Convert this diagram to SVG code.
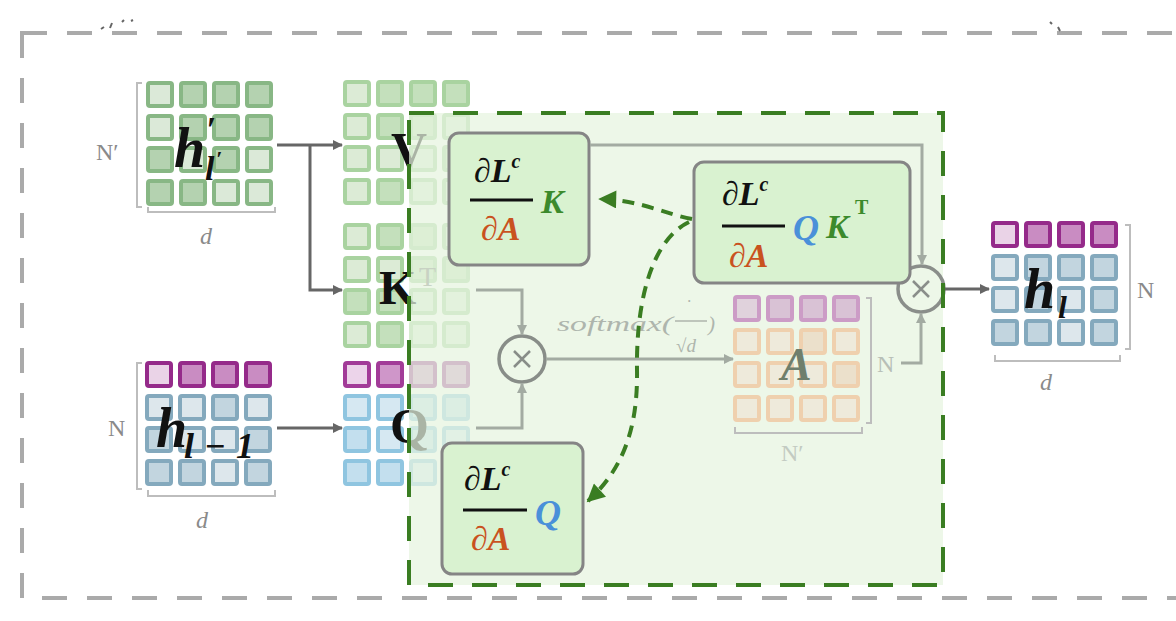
<svg xmlns="http://www.w3.org/2000/svg" width="1176" height="621" viewBox="0 0 1176 621">
<style>
.c{stroke-width:4;rx:2}
.gA{fill:#dbe9d8;stroke:#88b785}.gB{fill:#b4d2b0;stroke:#88b785}
.vA{fill:#dcebd6;stroke:#a9d3a0}.vB{fill:#c4e0bc;stroke:#a9d3a0}
.pA{fill:#ead3e7;stroke:#952a8a}.pB{fill:#c98cc2;stroke:#952a8a}
.bA{fill:#dde7ec;stroke:#84a9bd}.bB{fill:#c2d5df;stroke:#84a9bd}
.qA{fill:#d6e8f2;stroke:#8fc5e0}.qB{fill:#c3dfee;stroke:#8fc5e0}
.qpA{fill:#ecd4ea;stroke:#a23b98}.qpB{fill:#cf96c9;stroke:#a23b98}
.apA{fill:#e0d2dc;stroke:#cc9cc6}.apB{fill:#d9c2d5;stroke:#cc9cc6}
.aoA{fill:#eeeadb;stroke:#efd0ae}.aoB{fill:#ebe0cb;stroke:#efd0ae}
.brk{fill:none;stroke:#bdbdbd;stroke-width:2}
.dim{font-family:"Liberation Serif",serif;fill:#8a8a8a}
.math{font-family:"Liberation Serif",serif;font-weight:bold;font-style:italic}
.lab{font-family:"Liberation Serif",serif;font-weight:bold}
.dk{fill:none;stroke:#666;stroke-width:3}
.gr{fill:none;stroke:#a3aba2;stroke-width:3}
.box{fill:#d9f2d0;stroke:#858585;stroke-width:3}
.gd{fill:none;stroke:#3a7d22;stroke-width:4;stroke-dasharray:12 8}
</style>
<defs>
<marker id="aDk" viewBox="0 0 10 10" refX="9" refY="5" markerWidth="12" markerHeight="10" markerUnits="userSpaceOnUse" orient="auto"><path d="M0,0 L10,5 L0,10 z" fill="#666"/></marker>
<marker id="aGr" viewBox="0 0 10 10" refX="9" refY="5" markerWidth="12" markerHeight="10" markerUnits="userSpaceOnUse" orient="auto"><path d="M0,0 L10,5 L0,10 z" fill="#a3aba2"/></marker>
<marker id="aGn" viewBox="0 0 10 10" refX="9" refY="5" markerWidth="20" markerHeight="18" markerUnits="userSpaceOnUse" orient="auto"><path d="M0,0 L10,5 L0,10 z" fill="#3a7d22"/></marker>
</defs>

<!-- outer frame -->
<rect x="22" y="33" width="1180" height="565" fill="none" stroke="#aaaaaa" stroke-width="4" stroke-dasharray="25 20"/>
<path d="M101 29 L104 27 M110 28 L112 23 M122 22 L124 20 M131 21 L133 20 M1050 22 L1052 24 M1058 27 L1060 31" stroke="#666" stroke-width="2" fill="none"/>

<!-- h'_l' -->
<g id="h_prime">
<g transform="translate(146,81)">
<rect class="c gA" x="2" y="2" width="24" height="23"/><rect class="c gB" x="35" y="2" width="24" height="23"/><rect class="c gB" x="68" y="2" width="24" height="23"/><rect class="c gB" x="101" y="2" width="24" height="23"/>
<rect class="c gA" x="2" y="35" width="24" height="23"/><rect class="c gB" x="35" y="35" width="24" height="23"/><rect class="c gB" x="68" y="35" width="24" height="23"/><rect class="c gB" x="101" y="35" width="24" height="23"/>
<rect class="c gB" x="2" y="67" width="24" height="23"/><rect class="c gA" x="35" y="67" width="24" height="23"/><rect class="c gB" x="68" y="67" width="24" height="23"/><rect class="c gA" x="101" y="67" width="24" height="23"/>
<rect class="c gB" x="2" y="100" width="24" height="23"/><rect class="c gB" x="35" y="100" width="24" height="23"/><rect class="c gA" x="68" y="100" width="24" height="23"/><rect class="c gA" x="101" y="100" width="24" height="23"/>
</g>
<path class="brk" d="M142 83 H137 V207 H142"/>
<path class="brk" d="M148 207 V212 H275 V207"/>
<text class="dim" x="96" y="160" font-size="24">N′</text>
<text class="dim" x="200" y="244" font-size="24" font-style="italic">d</text>
<text class="math" x="174" y="167" font-size="56" fill="#111">h</text>
<text class="math" x="206" y="142" font-size="36" fill="#111">′</text>
<text class="math" x="205" y="180" font-size="34" fill="#111">l</text>
<text class="math" x="216" y="166" font-size="22" fill="#111">′</text>
</g>

<!-- h_{l-1} -->
<g id="h_lm1">
<g transform="translate(145,361)">
<rect class="c pA" x="2" y="2" width="24" height="23"/><rect class="c pB" x="35" y="2" width="24" height="23"/><rect class="c pB" x="68" y="2" width="24" height="23"/><rect class="c pB" x="101" y="2" width="24" height="23"/>
<rect class="c bA" x="2" y="35" width="24" height="23"/><rect class="c bA" x="35" y="35" width="24" height="23"/><rect class="c bB" x="68" y="35" width="24" height="23"/><rect class="c bA" x="101" y="35" width="24" height="23"/>
<rect class="c bB" x="2" y="67" width="24" height="23"/><rect class="c bA" x="35" y="67" width="24" height="23"/><rect class="c bA" x="68" y="67" width="24" height="23"/><rect class="c bB" x="101" y="67" width="24" height="23"/>
<rect class="c bB" x="2" y="100" width="24" height="23"/><rect class="c bB" x="35" y="100" width="24" height="23"/><rect class="c bA" x="68" y="100" width="24" height="23"/><rect class="c bB" x="101" y="100" width="24" height="23"/>
</g>
<path class="brk" d="M142 363 H137 V489 H142"/>
<path class="brk" d="M148 490 V496 H275 V490"/>
<text class="dim" x="108" y="436" font-size="24">N</text>
<text class="dim" x="196" y="528" font-size="24" font-style="italic">d</text>
<text class="math" x="156" y="447" font-size="56" fill="#111">h</text>
<text class="math" x="184" y="458" font-size="36" fill="#111" textLength="70" lengthAdjust="spacing">l−1</text>
</g>

<!-- V, K, Q matrices -->
<g id="V">
<g transform="translate(343,80)">
<rect class="c vA" x="2" y="2" width="24" height="23"/><rect class="c vB" x="35" y="2" width="24" height="23"/><rect class="c vB" x="68" y="2" width="24" height="23"/><rect class="c vB" x="101" y="2" width="24" height="23"/>
<rect class="c vA" x="2" y="35" width="24" height="23"/><rect class="c vB" x="35" y="35" width="24" height="23"/><rect class="c vB" x="68" y="35" width="24" height="23"/><rect class="c vA" x="101" y="35" width="24" height="23"/>
<rect class="c vA" x="2" y="67" width="24" height="23"/><rect class="c vA" x="35" y="67" width="24" height="23"/><rect class="c vA" x="68" y="67" width="24" height="23"/><rect class="c vB" x="101" y="67" width="24" height="23"/>
<rect class="c vA" x="2" y="100" width="24" height="23"/><rect class="c vB" x="35" y="100" width="24" height="23"/><rect class="c vA" x="68" y="100" width="24" height="23"/><rect class="c vA" x="101" y="100" width="24" height="23"/>
</g>
<text class="lab" x="391" y="167" font-size="50" fill="#111">V</text>
</g>
<g id="K">
<g transform="translate(343,223)">
<rect class="c vA" x="2" y="2" width="24" height="23"/><rect class="c vB" x="35" y="2" width="24" height="23"/><rect class="c vB" x="68" y="2" width="24" height="23"/><rect class="c vA" x="101" y="2" width="24" height="23"/>
<rect class="c vA" x="2" y="35" width="24" height="23"/><rect class="c vA" x="35" y="35" width="24" height="23"/><rect class="c vB" x="68" y="35" width="24" height="23"/><rect class="c vB" x="101" y="35" width="24" height="23"/>
<rect class="c vB" x="2" y="67" width="24" height="23"/><rect class="c vB" x="35" y="67" width="24" height="23"/><rect class="c vA" x="68" y="67" width="24" height="23"/><rect class="c vA" x="101" y="67" width="24" height="23"/>
<rect class="c vA" x="2" y="100" width="24" height="23"/><rect class="c vB" x="35" y="100" width="24" height="23"/><rect class="c vA" x="68" y="100" width="24" height="23"/><rect class="c vA" x="101" y="100" width="24" height="23"/>
</g>
<text class="lab" x="379" y="304" font-size="48" fill="#111">K</text>
<text x="419" y="286" font-family="Liberation Serif,serif" font-size="28" fill="#7a7a7a">T</text>
</g>
<g id="Q">
<g transform="translate(343,361)">
<rect class="c qpA" x="2" y="2" width="24" height="23"/><rect class="c qpB" x="35" y="2" width="24" height="23"/><rect class="c qpB" x="68" y="2" width="24" height="23"/><rect class="c qpB" x="101" y="2" width="24" height="23"/>
<rect class="c qA" x="2" y="35" width="24" height="23"/><rect class="c qA" x="35" y="35" width="24" height="23"/><rect class="c qB" x="68" y="35" width="24" height="23"/><rect class="c qB" x="101" y="35" width="24" height="23"/>
<rect class="c qB" x="2" y="67" width="24" height="23"/><rect class="c qA" x="35" y="67" width="24" height="23"/><rect class="c qB" x="68" y="67" width="24" height="23"/><rect class="c qA" x="101" y="67" width="24" height="23"/>
<rect class="c qB" x="2" y="100" width="24" height="23"/><rect class="c qB" x="35" y="100" width="24" height="23"/><rect class="c qA" x="68" y="100" width="24" height="23"/><rect class="c qA" x="101" y="100" width="24" height="23"/>
</g>
<text class="lab" x="390" y="443" font-size="50" fill="#111">Q</text>
</g>

<!-- green region overlay -->
<rect x="409" y="113" width="534" height="472" fill="#e6f4df" opacity="0.72"/>

<!-- A matrix -->
<g id="A">
<g transform="translate(733,295)">
<rect class="c apA" x="2" y="2" width="24" height="23"/><rect class="c apB" x="35" y="2" width="24" height="23"/><rect class="c apB" x="68" y="2" width="24" height="23"/><rect class="c apB" x="101" y="2" width="24" height="23"/>
<rect class="c aoA" x="2" y="35" width="24" height="23"/><rect class="c aoA" x="35" y="35" width="24" height="23"/><rect class="c aoB" x="68" y="35" width="24" height="23"/><rect class="c aoA" x="101" y="35" width="24" height="23"/>
<rect class="c aoA" x="2" y="68" width="24" height="23"/><rect class="c aoA" x="35" y="68" width="24" height="23"/><rect class="c aoA" x="68" y="68" width="24" height="23"/><rect class="c aoB" x="101" y="68" width="24" height="23"/>
<rect class="c aoA" x="2" y="102" width="24" height="23"/><rect class="c aoA" x="35" y="102" width="24" height="23"/><rect class="c aoA" x="68" y="102" width="24" height="23"/><rect class="c aoA" x="101" y="102" width="24" height="23"/>
</g>
<path class="brk" d="M866 298 H871 V423 H866" stroke="#cdd3cc"/>
<path class="brk" d="M735 427 V433 H862 V427" stroke="#cdd3cc"/>
<text class="math" x="781" y="380" font-size="46" fill="#6f7f6c">A</text>
<text x="781" y="461" font-family="Liberation Serif,serif" font-size="24" fill="#c3cbc2">N′</text>
<text x="877" y="372" font-family="Liberation Serif,serif" font-size="24" fill="#b8bfb7">N</text>
</g>

<!-- multiply nodes -->
<g id="mul1">
<circle cx="522" cy="359" r="23" fill="none" stroke="#888d88" stroke-width="3.5"/>
<path d="M514 351 L530 367 M530 351 L514 367" stroke="#888d88" stroke-width="2.5"/>
</g>
<g id="mul2">
<circle cx="921" cy="289" r="23" fill="none" stroke="#8a8e8a" stroke-width="3.5"/>
<path d="M913 281 L929 297 M929 281 L913 297" stroke="#8a8e8a" stroke-width="2.5"/>
</g>

<g id="softmax_label" font-family="Liberation Serif,serif" font-style="italic" fill="#aeb5ad">
<text x="557" y="331" font-size="21" textLength="116" lengthAdjust="spacingAndGlyphs">softmax(</text>
<text x="687" y="307" font-size="16">·</text>
<line x1="675" y1="321" x2="707" y2="321" stroke="#aeb5ad" stroke-width="1.5"/>
<text x="676" y="352" font-size="19">√d</text>
<text x="708" y="331" font-size="21">)</text>
</g>

<!-- boxes -->
<g id="box_K">
<rect class="box" x="449" y="133" width="140" height="132" rx="10"/>
<text class="math" x="474" y="182" font-size="34" fill="#111">∂L<tspan font-size="20" dy="-14">c</tspan></text>
<line x1="470" y1="200" x2="533" y2="200" stroke="#111" stroke-width="3"/>
<text class="math" x="481" y="240" font-size="34" fill="#c9521f">∂A</text>
<text class="math" x="541" y="213" font-size="34" fill="#3c8a2c">K</text>
</g>
<g id="box_QKT">
<rect class="box" x="694" y="162" width="216" height="121" rx="10"/>
<text class="math" x="722" y="205" font-size="34" fill="#111">∂L<tspan font-size="20" dy="-14">c</tspan></text>
<line x1="722" y1="226" x2="785" y2="226" stroke="#111" stroke-width="3"/>
<text class="math" x="729" y="267" font-size="34" fill="#c9521f">∂A</text>
<text class="math" x="793" y="240" font-size="36" fill="#4a90d9">Q</text>
<text class="math" x="826" y="238" font-size="34" fill="#3c8a2c">K</text>
<text x="855" y="214" font-family="Liberation Serif,serif" font-weight="bold" font-size="20" fill="#3c8a2c">T</text>
</g>
<g id="box_Q">
<rect class="box" x="442" y="443" width="141" height="131" rx="10"/>
<text class="math" x="464" y="490" font-size="34" fill="#111">∂L<tspan font-size="20" dy="-14">c</tspan></text>
<line x1="463" y1="510" x2="527" y2="510" stroke="#111" stroke-width="3"/>
<text class="math" x="471" y="550" font-size="34" fill="#c9521f">∂A</text>
<text class="math" x="535" y="525" font-size="36" fill="#4a90d9">Q</text>
</g>

<!-- h_l -->
<g id="h_l">
<g transform="translate(991,221)">
<rect class="c pA" x="2" y="2" width="24" height="23"/><rect class="c pB" x="35" y="2" width="24" height="23"/><rect class="c pB" x="68" y="2" width="24" height="23"/><rect class="c pB" x="101" y="2" width="24" height="23"/>
<rect class="c bA" x="2" y="35" width="24" height="23"/><rect class="c bB" x="35" y="35" width="24" height="23"/><rect class="c bB" x="68" y="35" width="24" height="23"/><rect class="c bB" x="101" y="35" width="24" height="23"/>
<rect class="c bA" x="2" y="67" width="24" height="23"/><rect class="c bB" x="35" y="67" width="24" height="23"/><rect class="c bA" x="68" y="67" width="24" height="23"/><rect class="c bB" x="101" y="67" width="24" height="23"/>
<rect class="c bB" x="2" y="100" width="24" height="23"/><rect class="c bB" x="35" y="100" width="24" height="23"/><rect class="c bA" x="68" y="100" width="24" height="23"/><rect class="c bB" x="101" y="100" width="24" height="23"/>
</g>
<path class="brk" d="M1125 225 H1130 V349 H1125"/>
<path class="brk" d="M995 355 V361 H1120 V355"/>
<text class="dim" x="1137" y="298" font-size="24">N</text>
<text class="dim" x="1040" y="390" font-size="24" font-style="italic">d</text>
<text class="math" x="1024" y="308" font-size="56" fill="#111">h</text>
<text class="math" x="1058" y="318" font-size="32" fill="#111">l</text>
</g>

<!-- connectors -->
<g id="connectors">
<path class="dk" d="M277 145 H342" marker-end="url(#aDk)"/>
<path class="dk" d="M310 145 V290 H342" marker-end="url(#aDk)"/>
<path class="dk" d="M277 428 H342" marker-end="url(#aDk)"/>
<path class="gr" d="M476 290 H522 V334" marker-end="url(#aGr)"/>
<path class="gr" d="M476 428 H522 V384" marker-end="url(#aGr)"/>
<path class="gr" d="M546 359 H733" marker-end="url(#aGr)" stroke="#9ea79d"/>
<path class="gr" d="M590 145 H922 V264" marker-end="url(#aGr)" stroke="#9c9f9c" stroke-width="4"/>
<path class="gr" d="M901 363 H921 V314" marker-end="url(#aGr)"/>
<path class="dk" d="M945 289 H989" marker-end="url(#aDk)" stroke="#555"/>
<path class="gd" d="M692 219 C665 214 640 200 600 199" marker-end="url(#aGn)"/>
<path class="gd" d="M689 222 C652 240 636 300 637 370 C638 430 622 470 588 501" marker-end="url(#aGn)"/>
</g>

<!-- green region border -->
<rect x="409" y="113" width="534" height="472" fill="none" stroke="#3a7d22" stroke-width="4" stroke-dasharray="25 19"/>
</svg>
